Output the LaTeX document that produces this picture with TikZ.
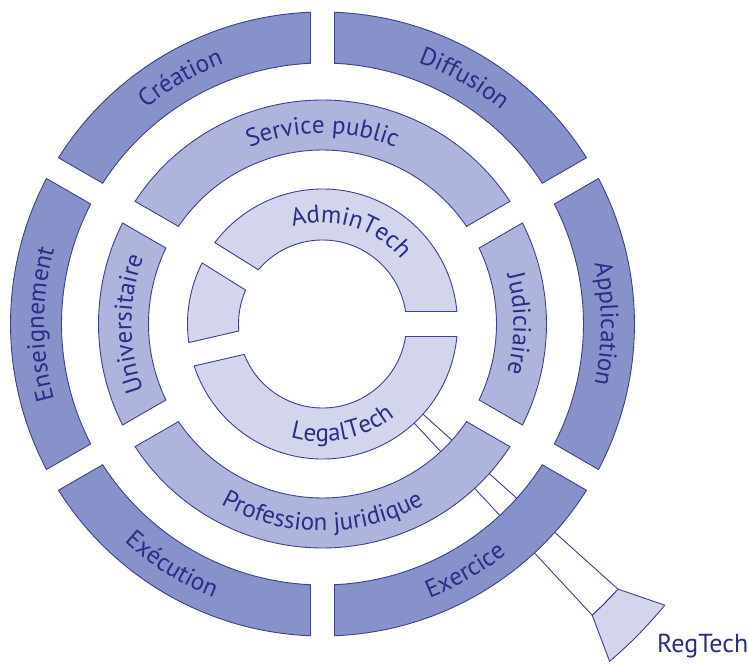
\documentclass[tikz,border=0pt]{standalone}
\usepackage{fontspec}
\setmainfont{PT Sans}
\usetikzlibrary{decorations.text}
\definecolor{outerc}{RGB}{134,146,201}
\definecolor{midc}{RGB}{174,180,220}
\definecolor{innerc}{RGB}{210,213,235}
\definecolor{linec}{RGB}{60,66,145}
\definecolor{txtc}{RGB}{40,46,138}
\newcommand\ringfont{\fontsize{25}{29}\selectfont\color{txtc}}
% \ringseg{style}{rin}{rout}{gap1}{half1}{gap2}{half2}
\newcommand\ringseg[7]{%
  \pgfmathsetmacro\segaA{#4+asin(#5/#3)}%
  \pgfmathsetmacro\segaB{#6-asin(#7/#3)}%
  \pgfmathsetmacro\segbA{#4+asin(#5/#2)}%
  \pgfmathsetmacro\segbB{#6-asin(#7/#2)}%
  \draw[#1] (\segaA:#3) arc[start angle=\segaA, end angle=\segaB, radius=#3]
    -- (\segbB:#2) arc[start angle=\segbB, end angle=\segbA, radius=#2] -- cycle;}
% clockwise text (tops outward)
\newcommand\cwtext[3]{%
  \path[decorate,decoration={text along path,text align=center,text={|\ringfont|#3}}]
    ({#1+50}:#2) arc[start angle={#1+50}, end angle={#1-50}, radius=#2];}
% counter-clockwise text (tops inward)
\newcommand\ccwtext[3]{%
  \path[decorate,decoration={text along path,text align=center,text={|\ringfont|#3}}]
    ({#1-50}:#2) arc[start angle={#1-50}, end angle={#1+50}, radius=#2];}
\begin{document}
\begin{tikzpicture}[x=1pt,y=1pt,line join=miter,
  outerseg/.style={draw=linec,fill=outerc,line width=0.9pt},
  midseg/.style={draw=linec,fill=midc,line width=0.9pt},
  innerseg/.style={draw=linec,fill=innerc,line width=0.9pt},
  stem/.style={draw=linec,fill=white,line width=0.9pt}]
\useasboundingbox (-322.5,-340) rectangle (425.5,324);
% stem towards RegTech
\path[stem] (-47.2:130) -- (-47.2:397) arc[start angle=-47.2, end angle=-41.9, radius=397]
  -- (-41.9:130) -- cycle;
% outer ring
\ringseg{outerseg}{261}{312}{-30}{12}{30}{12}
\ringseg{outerseg}{261}{312}{30}{12}{90}{12}
\ringseg{outerseg}{261}{312}{90}{12}{150}{12}
\ringseg{outerseg}{261}{312}{150}{12}{210}{12}
\ringseg{outerseg}{261}{312}{210}{12}{270}{12}
\ringseg{outerseg}{261}{312}{270}{12}{330}{12}
% middle ring
\ringseg{midseg}{174}{224}{-30}{12.5}{30}{12.5}
\ringseg{midseg}{174}{224}{30}{12.5}{150}{12.5}
\ringseg{midseg}{174}{224}{150}{12.5}{210}{12.5}
\ringseg{midseg}{174}{224}{210}{12.5}{330}{12.5}
% inner ring
\ringseg{innerseg}{84}{135}{0}{12.5}{148}{12}
\ringseg{innerseg}{84}{135}{148}{12}{193}{12}
\ringseg{innerseg}{84}{135}{193}{12}{360}{12.5}
% RegTech piece
\draw[innerseg] (-47.2:397) -- (-49.6:443) arc[start angle=-49.6, end angle=-39.4, radius=443]
  -- (-41.9:397) arc[start angle=-41.9, end angle=-47.2, radius=397] -- cycle;
\node[anchor=base west,inner sep=0pt,font=\fontsize{26}{30}\selectfont,text=txtc]
  (regtech) at (334.5,-328) {RegTech};
% texts on the outer ring
\cwtext{120}{278.5}{Création}
\cwtext{60}{278.5}{Diffusion}
\cwtext{0}{278.5}{Application}
\cwtext{180}{278.5}{Enseignement}
\ccwtext{238}{294.5}{Exécution}
\ccwtext{300}{294.5}{Exercice}
% texts on the middle ring
\cwtext{90}{191}{Service public}
\cwtext{0}{191}{Judiciaire}
\cwtext{180}{191}{Universitaire}
\ccwtext{270}{207}{Profession juridique}
% texts on the inner ring
\cwtext{73}{101.5}{AdminTech}
\ccwtext{281}{117.5}{LegalTech}
\end{tikzpicture}
\end{document}
